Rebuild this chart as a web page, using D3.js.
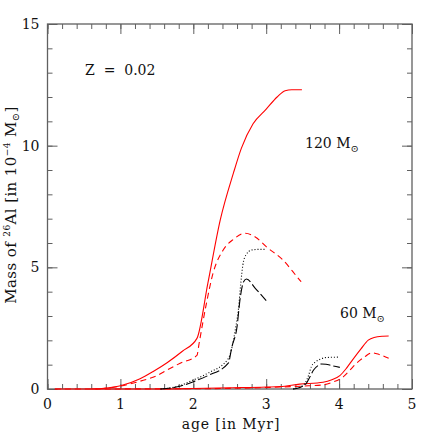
<!DOCTYPE html>
<html>
<head>
<meta charset="utf-8">
<script src="https://cdn.jsdelivr.net/npm/d3@7"></script>
<style>
  body { margin: 0; background: #fff; }
  svg text { font-family: "DejaVu Serif", "Liberation Serif", serif; fill: #111; }
</style>
</head>
<body>
<svg id="chart" width="436" height="436"></svg>
<script>
// 120 Msun model, age in Myr, mass in 1e-4 Msun
var m120SolidAge = [0.67, 0.8, 1.0, 1.27, 1.45, 1.64, 1.85, 2.05, 2.2, 2.37, 2.55, 2.66, 2.82, 3.0, 3.15, 3.26, 3.35, 3.49];
var m120SolidVal = [0, 0.04, 0.13, 0.42, 0.72, 1.08, 1.55, 2.08, 4.35, 6.95, 8.87, 9.9, 10.9, 11.5, 12.0, 12.26, 12.3, 12.3];
var m120DashAge = [0.6, 0.8, 1.0, 1.27, 1.5, 1.64, 1.82, 2.05, 2.08, 2.18, 2.27, 2.41, 2.55, 2.71, 2.85, 3.0, 3.23, 3.44, 3.48];
var m120DashVal = [0, 0.03, 0.12, 0.32, 0.55, 0.78, 1.06, 1.38, 1.88, 3.52, 4.75, 5.71, 6.15, 6.4, 6.25, 5.85, 5.3, 4.55, 4.41];
var m120DotAge = [1.55, 1.8, 2.0, 2.2, 2.48, 2.53, 2.58, 2.62, 2.65, 2.68, 2.72, 2.8, 2.9, 3.0];
var m120DotVal = [0, 0.12, 0.37, 0.65, 1.25, 1.7, 2.5, 3.3, 4.3, 5.1, 5.5, 5.71, 5.74, 5.74];
var m120LongAge = [1.55, 1.8, 2.0, 2.2, 2.48, 2.53, 2.6, 2.64, 2.69, 2.73, 2.85, 3.0];
var m120LongVal = [0, 0.1, 0.3, 0.55, 1.06, 1.74, 2.56, 3.66, 4.41, 4.52, 4.14, 3.63];

// 60 Msun model
var m60SolidAge = [0.1, 1.5, 2.0, 2.5, 3.0, 3.19, 3.46, 3.78, 3.9, 4.01, 4.1, 4.19, 4.3, 4.4, 4.48, 4.6, 4.68];
var m60SolidVal = [0, 0, 0.02, 0.05, 0.08, 0.1, 0.2, 0.28, 0.38, 0.55, 0.85, 1.22, 1.65, 2.01, 2.12, 2.17, 2.18];
var m60DashAge = [0.1, 2.0, 3.0, 3.5, 3.78, 3.9, 4.06, 4.15, 4.24, 4.35, 4.45, 4.55, 4.68];
var m60DashVal = [0, 0.01, 0.06, 0.12, 0.17, 0.27, 0.51, 0.78, 1.06, 1.32, 1.49, 1.42, 1.26];
var m60DotAge = [3.37, 3.45, 3.53, 3.58, 3.62, 3.68, 3.74, 3.81, 3.99];
var m60DotVal = [0, 0.06, 0.23, 0.55, 0.92, 1.12, 1.22, 1.29, 1.31];
var m60LongAge = [3.37, 3.45, 3.55, 3.6, 3.65, 3.71, 3.76, 3.82, 3.9, 4.01];
var m60LongVal = [0, 0.05, 0.23, 0.5, 0.78, 0.96, 1.03, 1.02, 0.96, 0.89];

var xTicks = [0, 1, 2, 3, 4, 5];
var yTicks = [0, 5, 10, 15];

// plot box (not "top": that name is taken by window.top)
var boxL = 47.5, boxR = 412, boxT = 24, boxB = 389;
var svg = d3.select('#chart');

var x = d3.scaleLinear().domain([0, 5]).range([boxL, boxR]);
var y = d3.scaleLinear().domain([0, 15]).range([boxB, boxT]);

var frameColor = '#606060';

function ticks(axisGen, tx, ty) {
  var g = svg.append('g').attr('transform', 'translate(' + tx + ',' + ty + ')').call(axisGen);
  g.select('.domain').remove();
  g.selectAll('line').attr('stroke', frameColor).attr('stroke-width', 1);
  return g;
}

// minor and major ticks pointing inward on all four sides
var xMinor = d3.range(0, 5.01, 0.2), yMinor = d3.range(0, 15.01, 1);
ticks(d3.axisTop(x).tickValues(xMinor).tickSize(5).tickFormat(''), 0, boxB);
ticks(d3.axisTop(x).tickValues(xTicks).tickSize(10).tickFormat(''), 0, boxB);
ticks(d3.axisBottom(x).tickValues(xMinor).tickSize(5).tickFormat(''), 0, boxT);
ticks(d3.axisBottom(x).tickValues(xTicks).tickSize(10).tickFormat(''), 0, boxT);
ticks(d3.axisRight(y).tickValues(yMinor).tickSize(5).tickFormat(''), boxL, 0);
ticks(d3.axisRight(y).tickValues(yTicks).tickSize(10).tickFormat(''), boxL, 0);
ticks(d3.axisLeft(y).tickValues(yMinor).tickSize(5).tickFormat(''), boxR, 0);
ticks(d3.axisLeft(y).tickValues(yTicks).tickSize(10).tickFormat(''), boxR, 0);

svg.append('rect')
  .attr('x', boxL).attr('y', boxT)
  .attr('width', boxR - boxL).attr('height', boxB - boxT)
  .attr('fill', 'none').attr('stroke', frameColor).attr('stroke-width', 1.3);

// tick labels
svg.selectAll('.xl').data(xTicks).enter().append('text')
  .attr('x', function(d) { return x(d); }).attr('y', boxB + 20)
  .attr('text-anchor', 'middle').attr('font-size', 14)
  .text(function(d) { return d; });
svg.selectAll('.yl').data(yTicks).enter().append('text')
  .attr('x', boxL - 8).attr('y', function(d) { return y(d) + 5; })
  .attr('text-anchor', 'end').attr('font-size', 14)
  .text(function(d) { return d; });

var line = d3.line()
  .x(function(d) { return x(d[0]); })
  .y(function(d) { return y(d[1]); })
  .curve(d3.curveMonotoneX);

function draw(ages, vals, color, dash) {
  var pts = ages.map(function(a, i) { return [a, vals[i]]; });
  svg.append('path').datum(pts)
    .attr('d', line)
    .attr('fill', 'none')
    .attr('stroke', color)
    .attr('stroke-width', 1.1)
    .attr('stroke-dasharray', dash);
}

draw(m60SolidAge, m60SolidVal, '#ff0000', null);
draw(m60DashAge, m60DashVal, '#ff0000', '6,4');
draw(m60DotAge, m60DotVal, '#000', '1,2');
draw(m60LongAge, m60LongVal, '#000', '10,3');
draw(m120SolidAge, m120SolidVal, '#ff0000', null);
draw(m120DashAge, m120DashVal, '#ff0000', '6,4');
draw(m120DotAge, m120DotVal, '#000', '1,2');
draw(m120LongAge, m120LongVal, '#000', '10,3');

// labels
svg.append('text').attr('x', 85).attr('y', 75).attr('font-size', 14)
  .attr('xml:space', 'preserve').text('Z  =  0.02');

function massLabel(tx, ty, num) {
  var t = svg.append('text').attr('x', tx).attr('y', ty).attr('font-size', 14)
    .attr('xml:space', 'preserve');
  t.append('tspan').text(num + ' M');
  t.append('tspan').attr('font-size', 10).attr('dy', 4).text('\u2299');
}
massLabel(305, 148, '120');
massLabel(340, 318, '60');

svg.append('text').attr('x', 231).attr('y', 429).attr('text-anchor', 'middle')
  .attr('font-size', 14).attr('letter-spacing', 0.9).text('age [in Myr]');

var yl = svg.append('text')
  .attr('transform', 'translate(16,205) rotate(-90)')
  .attr('text-anchor', 'middle').attr('font-size', 15)
  .attr('letter-spacing', 0.4)
  .attr('xml:space', 'preserve');
yl.append('tspan').text('Mass of ');
yl.append('tspan').attr('font-size', 9).attr('dy', -6).text('26');
yl.append('tspan').attr('dy', 6).text('Al [in 10');
yl.append('tspan').attr('font-size', 9).attr('dy', -6).text('\u22124');
yl.append('tspan').attr('dy', 6).text(' M');
yl.append('tspan').attr('font-size', 10).attr('dy', 3).text('\u2299');
yl.append('tspan').attr('dy', -3).text(']');
</script>
</body>
</html>
